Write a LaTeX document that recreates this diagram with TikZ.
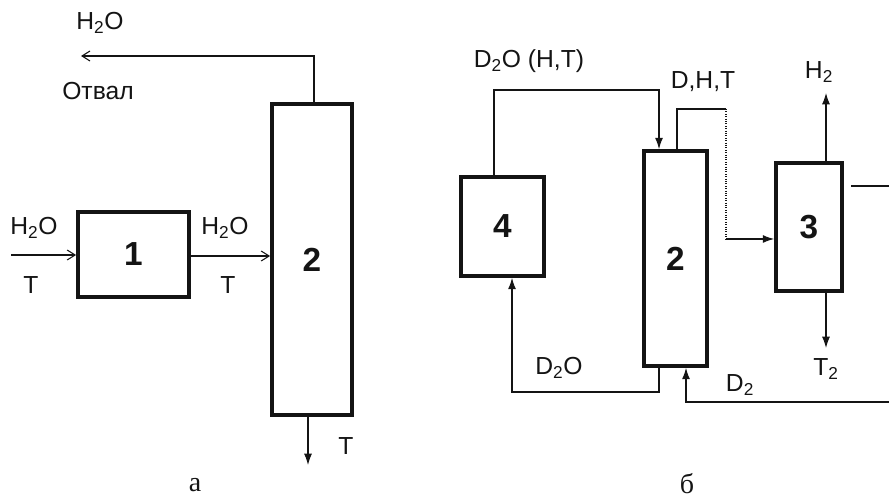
\documentclass[tikz,border=0pt]{standalone}
\usepackage{fontspec}
\setmainfont{Liberation Sans}
\newfontfamily\capfont{Liberation Serif}
\usetikzlibrary{arrows.meta}
\definecolor{lne}{HTML}{141414}

\begin{document}
\begin{tikzpicture}[x=0.75pt,y=-0.75pt,font=\fontsize{18.5}{21}\selectfont,text=lne,
  unit/.style={draw=lne,line width=2.8pt,inner sep=0pt,
    font=\bfseries\fontsize{25}{28}\selectfont},
  flow/.style={draw=lne,line width=0.8pt},
  fil/.style={-{Latex[length=8.5pt,width=6pt]}},
  barb/.style={-{Straight Barb[length=6pt,width=7.5pt]}}]
\useasboundingbox (0,0) rectangle (889,498);
\clip (0,0) rectangle (889,498);
% --- panel a ---
\node[unit,minimum width=83.25pt,minimum height=63.75pt] (col1) at (133.5,254.5) {1};
\node[unit,minimum width=60pt,minimum height=233.25pt] (col2a) at (312,259.5) {2};
\coordinate (feed) at (11,255);
\coordinate (mid) at (230,256);
\coordinate (top) at (314,56);
\coordinate (dump) at (81,56);
\coordinate (bot) at (308,465);
\draw[flow,barb] (feed) -- (col1.west|-feed);
\draw[flow,barb] (col1.east|-mid) -- (col2a.west|-mid);
\draw[flow,barb] (col2a.north-|top) -- (top) -- (dump);
\draw[flow,fil] (col2a.south-|bot) -- (bot);
\node (aH1) at (34,228) {H\textsubscript{2}O};
\node (aT1) at (31,285) {T};
\node (aH2) at (225,228) {H\textsubscript{2}O};
\node (aT2) at (228,285) {T};
\node (aH3) at (100,23) {H\textsubscript{2}O};
\node (aOut) at (98,91) {Отвал};
\node (aT3) at (346,446) {T};
\node[font=\capfont\fontsize{21}{24}\selectfont] (capa) at (195,485) {а};
% --- panel b ---
\node[unit,minimum width=62.25pt,minimum height=74.25pt] (col4) at (502.5,226.5) {4};
\node[unit,minimum width=47.25pt,minimum height=161.25pt] (col2b) at (675.5,258.5) {2};
\node[unit,minimum width=49.5pt,minimum height=96pt] (col3) at (809,227) {3};
\coordinate (r1) at (494,90);
\coordinate (r2) at (659,90);
\draw[flow,fil] (col4.north-|r1) -- (r1) -- (r2) -- (col2b.north-|r2);
\coordinate (s1) at (677,109);
\coordinate (s2) at (726,109);
\coordinate (s3) at (726,239);
\draw[flow] (col2b.north-|s1) -- (s1) -- (s2);
\draw[flow,densely dotted] (s2) -- (s3);
\draw[flow,fil] (s3) -- (col3.west|-s3);
\coordinate (h2) at (826,93);
\coordinate (t2) at (826,348);
\draw[flow,fil] (col3.north-|h2) -- (h2);
\draw[flow,fil] (col3.south-|t2) -- (t2);
\coordinate (d1) at (851,186);
\coordinate (d2) at (893,186);
\coordinate (d3) at (893,402);
\coordinate (d4) at (686,402);
\draw[flow,fil] (d1) -- (d2) -- (d3) -- (d4) -- (col2b.south-|d4);
\coordinate (w1) at (659,392);
\coordinate (w2) at (512,392);
\draw[flow,fil] (col2b.south-|w1) -- (w1) -- (w2) -- (col4.south-|w2);
\node (bD1) at (529,61) {D\textsubscript{2}O (H,T)};
\node (bDHT) at (703,82) {D,H,T};
\node (bH2) at (819,72) {H\textsubscript{2}};
\node (bT2) at (826,369) {T\textsubscript{2}};
\node (bD2O) at (559,368) {D\textsubscript{2}O};
\node (bD2) at (740,385) {D\textsubscript{2}};
\node[font=\capfont\fontsize{21}{24}\selectfont] (capb) at (687,484) {б};
\end{tikzpicture}
\end{document}
